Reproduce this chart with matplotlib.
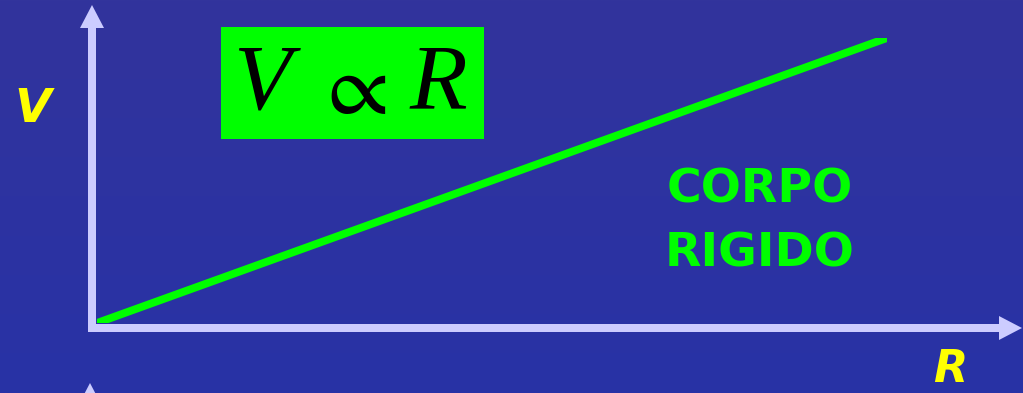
import matplotlib
matplotlib.use("Agg")
import matplotlib.pyplot as plt
import numpy as np
from matplotlib.patches import FancyArrow, Rectangle

plt.rcParams["mathtext.fontset"] = "stix"

# relation drawn: V grows linearly with R (rigid body)
r_vals = [0.0, 10.0]
v_vals = [0.0, 10.0]

W, H = 1023, 393
fig = plt.figure(figsize=(W / 100, H / 100), dpi=100)

# background panel in pixel coordinates
bg = fig.add_axes([0, 0, 1, 1])
bg.set_xlim(0, W)
bg.set_ylim(H, 0)
bg.axis("off")

top = np.array([50, 52, 156]) / 255
bot = np.array([40, 50, 166]) / 255
t = np.linspace(0, 1, 256)[:, None, None]
grad = top * (1 - t) + bot * t
bg.imshow(np.repeat(grad, 2, axis=1), extent=[0, W, H, 0], aspect="auto", zorder=0)

axis_col = "#CCCCFF"
# vertical axis with arrow head
bg.add_patch(FancyArrow(92, 332, 0, -327, width=8, head_width=24, head_length=23,
                        length_includes_head=True, color=axis_col, lw=0, zorder=2))
# horizontal axis with arrow head
bg.add_patch(FancyArrow(88, 328, 934, 0, width=8, head_width=24, head_length=23,
                        length_includes_head=True, color=axis_col, lw=0, zorder=2))
# tip of the next axis just below
bg.add_patch(FancyArrow(90, 420, 0, -37, width=8, head_width=24, head_length=23,
                        length_includes_head=True, color=axis_col, lw=0, zorder=2))

# axis labels
bg.text(33, 110, "V", color="#FFFF00", fontsize=34, fontweight="bold", style="italic",
        family="DejaVu Sans", ha="center", va="center", zorder=3)
bg.text(950, 370, "R", color="#FFFF00", fontsize=32, fontweight="bold", style="italic",
        family="DejaVu Sans", ha="center", va="center", zorder=3)

# formula box
bg.add_patch(Rectangle((221, 27), 263, 112, color="#00FF00", lw=0, zorder=3))
bg.text(262, 86, "V", family="Liberation Serif", style="italic", fontsize=68,
        ha="center", va="center", color="black", zorder=4)
bg.text(351, 90, r"$\propto$", fontsize=64,
        ha="center", va="center", color="black", zorder=4)
bg.text(438, 86, "R", family="Liberation Serif", style="italic", fontsize=68,
        ha="center", va="center", color="black", zorder=4)

# caption
bg.text(760, 190, "CORPO", color="#00FF00", fontsize=34, fontweight="bold",
        family="DejaVu Sans", ha="center", va="center", zorder=3)
bg.text(760, 254, "RIGIDO", color="#00FF00", fontsize=34, fontweight="bold",
        family="DejaVu Sans", ha="center", va="center", zorder=3)

# data axes for the line
ax = fig.add_axes([97 / W, (H - 323) / H, 790 / W, 285 / H])
ax.set_xlim(0, 10)
ax.set_ylim(0, 10)
ax.axis("off")
ax.patch.set_alpha(0)
ax.plot(r_vals, v_vals, color="#00FF00", lw=5.6, solid_capstyle="butt", zorder=5)

fig.savefig("out.png", dpi=100)
